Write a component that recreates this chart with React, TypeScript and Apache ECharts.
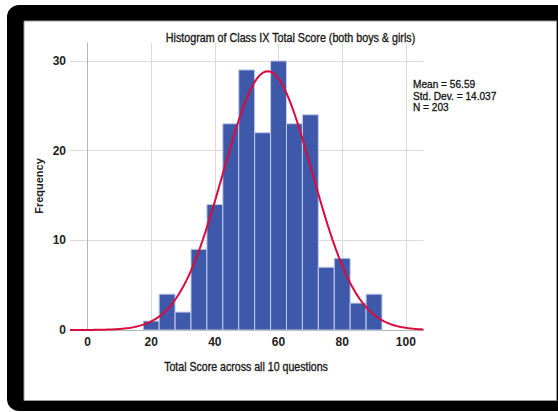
import React, { useEffect, useRef } from "react";
import * as echarts from "echarts";

// ---- data ----
const binStarts = [17.5, 22.5, 27.5, 32.5, 37.5, 42.5, 47.5, 52.5, 57.5, 62.5, 67.5, 72.5, 77.5, 82.5, 87.5];
const frequencies = [1, 4, 2, 9, 14, 23, 29, 22, 30, 23, 24, 7, 8, 3, 4];
const BIN_WIDTH = 5;
const MEAN = 56.59;
const SD = 14.037;
const N = 203;
const X_MIN = -5.5;
const X_MAX = 105.5;
const Y_MAX = 32;

const titleText = "Histogram of Class IX Total Score (both boys & girls)";
const xName = "Total Score across all 10 questions";
const yName = "Frequency";
const statsLines = ["Mean = 56.59", "Std. Dev. = 14.037", "N = 203"];

// fitted normal curve defined by the chart's stated mean / sd / N
const curveXs: number[] = [];
for (let x = X_MIN; x <= X_MAX + 1e-9; x += 0.5) curveXs.push(Math.round(x * 10) / 10);
const curve = curveXs.map((x) => [
  x,
  (N * BIN_WIDTH) / (SD * Math.sqrt(2 * Math.PI)) * Math.exp(-((x - MEAN) ** 2) / (2 * SD * SD)),
]);

const FONT = "'Liberation Sans', Arial, sans-serif";

export default function App() {
  const ref = useRef<HTMLDivElement>(null);
  useEffect(() => {
    if (!ref.current) return;
    const chart = echarts.init(ref.current, undefined, { renderer: "svg" });
    const bars = binStarts.map((s, i) => [s, s + BIN_WIDTH, frequencies[i]]);
    chart.setOption({
      animation: false,
      backgroundColor: "#ffffff",
      grid: { left: 70, right: 134.6, top: 43, bottom: 82, containLabel: false },
      xAxis: {
        type: "value",
        min: X_MIN,
        max: X_MAX,
        splitNumber: 5,
        axisLine: { show: true, lineStyle: { color: "#b5b5b5", width: 1 } },
        axisTick: { show: false },
        axisLabel: {
          show: true,
          showMinLabel: false,
          showMaxLabel: false,
          margin: 6,
          color: "#222",
          fontWeight: "bold",
          fontSize: 12,
          fontFamily: FONT,
          formatter: (v: number) => (v % 20 === 0 ? String(v) : ""),
        },
        splitLine: { show: true, showMinLine: false, showMaxLine: false, lineStyle: { color: "#dadada", width: 1 } },
      },
      yAxis: {
        type: "value",
        min: 0,
        max: Y_MAX,
        interval: 10,
        axisLine: { show: true, lineStyle: { color: "#b5b5b5", width: 1 } },
        axisTick: { show: false },
        axisLabel: {
          show: true,
          showMaxLabel: false,
          margin: 4,
          color: "#222",
          fontWeight: "bold",
          fontSize: 12,
          fontFamily: FONT,
          formatter: (v: number) => (v % 10 === 0 ? String(v) : ""),
        },
        splitLine: { show: true, showMaxLine: false, lineStyle: { color: "#dadada", width: 1 } },
      },
      graphic: [
        {
          type: "rect",
          z: -10,
          silent: true,
          shape: { x: 7, y: 5, width: 570, height: 406, r: [12, 0, 0, 12] },
          style: { fill: "#000000" },
        },
        {
          type: "rect",
          z: -9,
          silent: true,
          shape: { x: 24, y: 21, width: 532.5, height: 379.5 },
          style: { fill: "#ffffff", stroke: "#9a9a9a", lineWidth: 1 },
        },
        {
          type: "text",
          x: 290.5,
          y: 37.5,
          scaleX: 0.894,
          style: {
            text: titleText, font: `12px ${FONT}`, fill: "#1a1a1a", stroke: "#1a1a1a", lineWidth: 0.35,
            align: "center", verticalAlign: "middle",
          },
        },
        {
          type: "text",
          x: 246,
          y: 367,
          scaleX: 0.884,
          style: {
            text: xName, font: `12px ${FONT}`, fill: "#1a1a1a", stroke: "#1a1a1a", lineWidth: 0.35,
            align: "center", verticalAlign: "middle",
          },
        },
        {
          type: "text",
          x: 39,
          y: 186,
          rotation: Math.PI / 2,
          style: { text: yName, font: `bold 11px ${FONT}`, fill: "#222", align: "center", verticalAlign: "middle" },
        },
        ...statsLines.map((t, i) => ({
          type: "text",
          x: 413,
          y: 84 + i * 11.4,
          scaleX: 0.88,
          style: {
            text: t, font: `11.5px ${FONT}`, fill: "#111", stroke: "#111", lineWidth: 0.3,
            align: "left", verticalAlign: "middle",
          },
        })),
      ],
      series: [
        {
          type: "custom",
          name: "Frequency",
          data: bars,
          encode: { x: [0, 1], y: 2 },
          z: 2,
          renderItem: (_params: any, api: any) => {
            const x0 = api.value(0);
            const x1 = api.value(1);
            const y = api.value(2);
            const p0 = api.coord([x0, y]);
            const p1 = api.coord([x1, 0]);
            return {
              type: "rect",
              shape: { x: p0[0], y: p0[1], width: p1[0] - p0[0], height: p1[1] - p0[1] },
              style: { fill: "#3e59a9", stroke: "#c3cdea", lineWidth: 1 },
            };
          },
        },
        {
          type: "line",
          name: "Normal",
          data: curve,
          showSymbol: false,
          symbol: "none",
          z: 3,
          lineStyle: { color: "#d90b3d", width: 2 },
        },
      ],
    });
    return () => chart.dispose();
  }, []);
  return <div ref={ref} style={{ position: "absolute", left: 0, top: 0, width: 558, height: 412 }} />;
}
